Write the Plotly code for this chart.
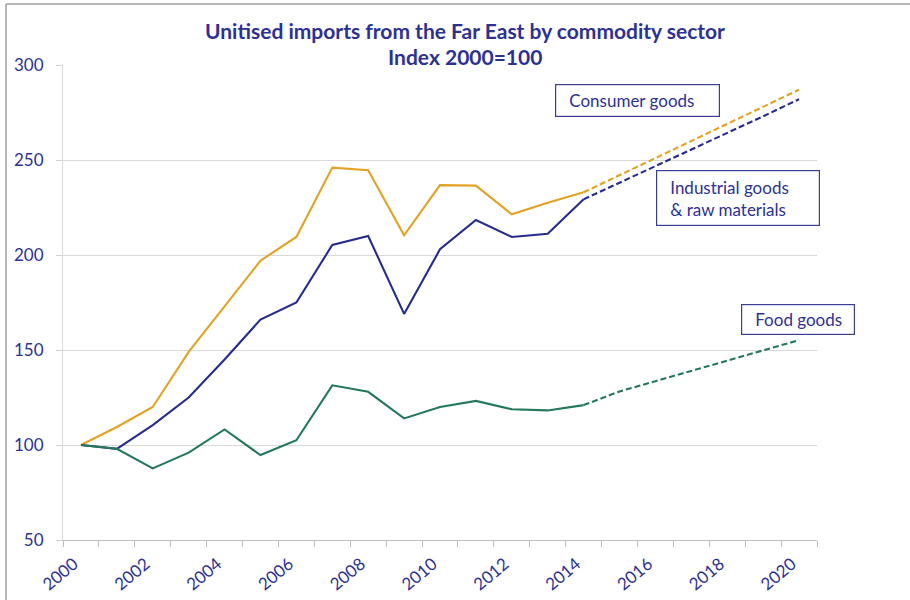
import plotly.graph_objects as go

years = list(range(2000, 2015))
consumer = [100, 109.5, 120, 149, 173, 197, 209.5, 246, 244.6, 210.4, 236.8, 236.5, 221.4, 227.5, 233]
industrial = [100, 98, 110.5, 125, 145, 166, 175, 205.3, 210, 169, 203, 218.4, 209.5, 211.2, 229.3]
food = [100, 98, 87.7, 96, 108.2, 94.7, 102.5, 131.4, 128, 114, 120, 123.2, 118.8, 118.2, 121]

proj_years = list(range(2014, 2021))
consumer_proj = [233, 242, 251, 260, 269, 278, 287]
industrial_proj = [229.3, 238, 247, 255.5, 264.5, 273, 282]
food_proj = [121, 128.2, 133.6, 139, 144.4, 149.8, 155.2]

label_years = list(range(2000, 2021, 2))
label_text = [str(y) for y in label_years]
boundaries = [y - 0.5 for y in range(2000, 2022)]
y_ticks = [50, 100, 150, 200, 250, 300]

ORANGE = "#E2A225"
NAVY = "#252C8C"
GREEN = "#23795A"
TEXT = "#2E3192"
FONT = "Lato"
LABEL_SHIFT = -0.2  # visual centring of the rotated year labels

fig = go.Figure()
series = [
    ("Consumer goods", consumer, consumer_proj, ORANGE),
    ("Industrial goods & raw materials", industrial, industrial_proj, NAVY),
    ("Food goods", food, food_proj, GREEN),
]
for name, vals, proj, col in series:
    fig.add_trace(go.Scatter(x=years, y=vals, mode="lines", name=name,
                             line=dict(color=col, width=2.1), showlegend=False))
    fig.add_trace(go.Scatter(x=proj_years, y=proj, mode="lines", name=name + " (projection)",
                             line=dict(color=col, width=2.1, dash="6px,3px"), showlegend=False))

# invisible trace for the label axis
fig.add_trace(go.Scatter(x=label_years, y=[None] * len(label_years), xaxis="x2",
                         mode="lines", showlegend=False, hoverinfo="skip"))

fig.update_layout(
    width=910, height=600,
    margin=dict(l=63, r=93, t=65, b=60),
    paper_bgcolor="white", plot_bgcolor="white",
    font=dict(family=FONT, color=TEXT, size=16),
    xaxis=dict(range=[1999.5, 2020.5], tickmode="array", tickvals=boundaries,
               showticklabels=False, ticks="outside", ticklen=6, tickcolor="#BFBFBF",
               showgrid=False, showline=True, linecolor="#BFBFBF", linewidth=1,
               zeroline=False, automargin=False),
    xaxis2=dict(range=[1999.5, 2020.5], overlaying="x", anchor="y", side="bottom",
                tickmode="array", tickvals=[y + LABEL_SHIFT for y in label_years],
                ticktext=label_text,
                tickangle=-40, ticks="", showgrid=False, showline=False, zeroline=False,
                ticklabelstandoff=10, automargin=False,
                tickfont=dict(family=FONT, size=17, color=TEXT)),
    yaxis=dict(range=[50, 300], tickmode="array", tickvals=y_ticks,
               ticks="outside", ticklen=6, tickcolor="#D0D0D0",
               showgrid=True, gridcolor="#D9D9D9", gridwidth=1,
               showline=True, linecolor="#D9D9D9", zeroline=False,
               ticklabelstandoff=9, automargin=False,
               tickfont=dict(family=FONT, size=17, color=TEXT)),
)

fig.add_annotation(text="<b>Unitised imports from the Far East by commodity sector</b>",
                   xref="paper", yref="paper", x=(465 - 63) / 754, y=1 + (65 - 30) / 475,
                   showarrow=False, font=dict(family=FONT, size=21, color=TEXT),
                   xanchor="center", yanchor="middle")
fig.add_annotation(text="<b>Index 2000=100</b>",
                   xref="paper", yref="paper", x=(465 - 63) / 754, y=1 + (65 - 57) / 475,
                   showarrow=False, font=dict(family=FONT, size=21, color=TEXT),
                   xanchor="center", yanchor="middle")

SP = "&nbsp;&nbsp;&nbsp;"
boxes = [
    (SP + "Consumer goods", 2015.5, 281.3, 166, 34),
    (SP + "Industrial goods<br>" + SP + "& raw materials", 2018.3, 230, 165, 57),
    (SP + "Food goods", 2019.97, 166.3, 115, 32),
]
for txt, bx, by, w, h in boxes:
    fig.add_annotation(text=txt, x=bx, y=by, xref="x", yref="y", showarrow=False,
                       font=dict(family=FONT, size=17, color=TEXT),
                       bordercolor="#3B3F8F", borderwidth=1.2, borderpad=0,
                       bgcolor="white", width=w - 3, height=h - 3, align="left",
                       xanchor="center", yanchor="middle")

# outer frame
fig.add_shape(type="line", xref="paper", yref="paper", x0=-57 / 754, x1=1 + 93 / 754,
              y0=1 + 61 / 475, y1=1 + 61 / 475, line=dict(color="#A0A0A0", width=1.5))
fig.add_shape(type="line", xref="paper", yref="paper", x0=-57 / 754, x1=-57 / 754,
              y0=-60 / 475, y1=1 + 61 / 475, line=dict(color="#A0A0A0", width=1.5))

fig.write_html("out.html")
